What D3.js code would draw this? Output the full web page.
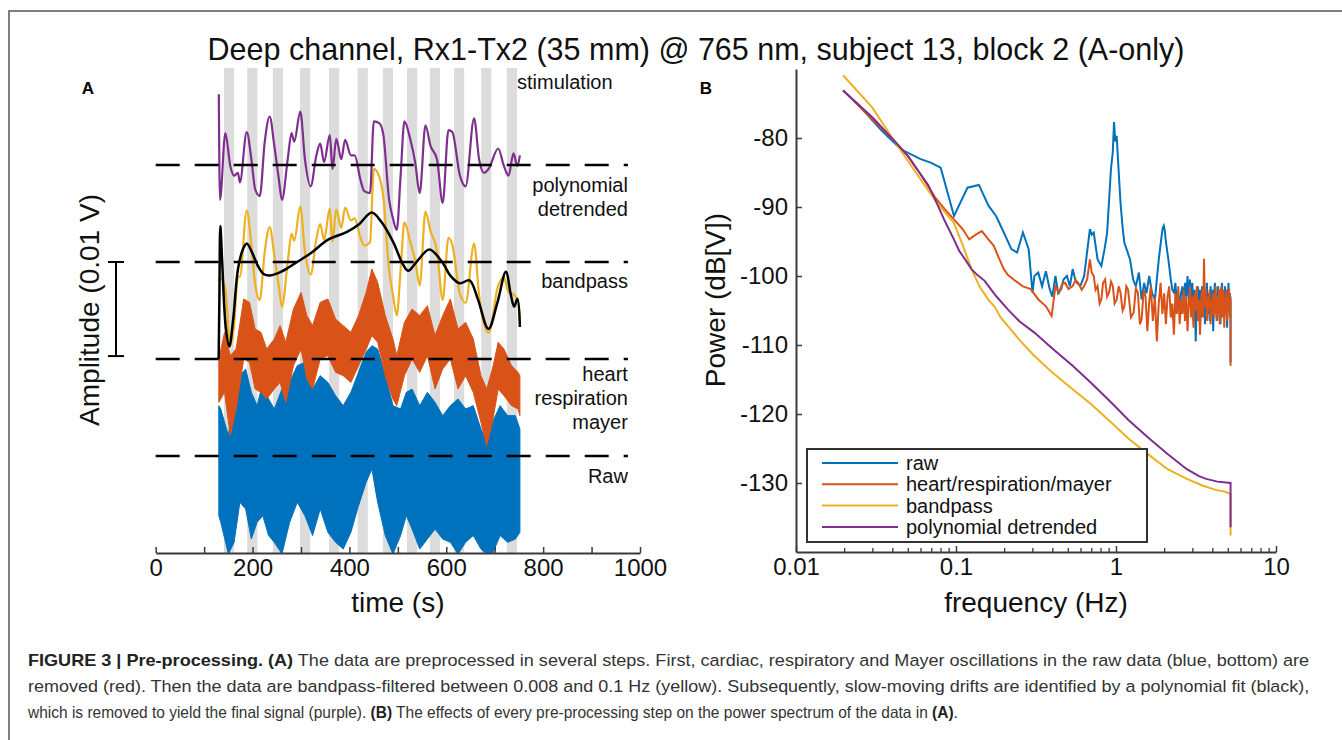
<!DOCTYPE html>
<html><head><meta charset="utf-8">
<script src="https://cdn.jsdelivr.net/npm/d3@7"></script>
<style>
body{margin:0;background:#fff}
svg{display:block}
text{font-family:"Liberation Sans",Arial,Helvetica,sans-serif}
</style>
</head><body>
<svg id="c" width="1342" height="740"></svg>
<script>
// ================= DATA =================
const chartTitle = "Deep channel, Rx1-Tx2 (35 mm) @ 765 nm, subject 13, block 2 (A-only)";

// Panel A: stimulation blocks (s)
const stimOnsets = [141,189,242,298,358,417,469,519,566,616,672,725];
const stimDuration = 21;

// trace baselines (mV; dashed lines)
const baselines = [0,10,20,30];
const traceLabels = [
  {lines:["stimulation"], y:37.8, anchor:"start", t:746},
  {lines:["polynomial","detrended"], y:27.2, anchor:"end", t:975},
  {lines:["bandpass"], y:17.3, anchor:"end", t:975},
  {lines:["heart","respiration","mayer"], y:7.7, anchor:"end", t:975},
  {lines:["Raw"], y:-2.8, anchor:"end", t:975}
];

// polynomial-detrended (purple) and bandpass (yellow), mV around own baseline
const polyT = [130.3,132.7,143.8,154,162,169.8,173.8,188,197.5,205.4,214.9,225.2,235.4,244.9,254.4,260.7,272.6,280.5,286,298.6,308.1,320,331.8,339.7,347.6,359.5,365,372.9,383.2,391.1,403,410.9,422.7,430.6,442.5,450.4,462.2,470.1,482,489.9,497.8,505.7,513.6,525.4,535.7,545.2,557,567.3,580.8,592.6,604.5,612.4,628.2,640,657.4,667.7,677.9,687.4,707.2,719,728.5,738.8,746.7,752];
const polyV = [7.3,-3.6,3.3,-0.1,-1.1,-0.8,-1.8,3.4,0.6,-2.5,-3.2,2.4,5.0,2.0,-1.5,-3.6,0.6,3.3,2.4,5.5,0.6,-2.2,1.0,2.2,0.3,3.1,-0.4,2.7,0.6,2.6,1.0,1.0,-1.5,-2.7,-2.9,4.5,4.3,3.1,-3.6,-5.5,-6.7,-1.1,4.5,2.7,0.3,-2.9,4.1,2.0,0.6,-3.9,3.6,3.4,-1.1,-2.2,4.8,0.6,-0.8,-0.4,1.7,-0.1,-1.1,1.2,-0.1,1.0];
const bandV = [-2.0,-1.6,-2.8,-8.6,-6.4,-1.5,-1.5,5.3,1.7,-2.3,-3.9,1.1,3.6,0.7,-2.6,-4.6,0.0,2.9,2.2,5.7,1.1,-1.3,2.4,3.9,2.3,5.5,2.1,5.4,3.5,5.6,4.3,4.5,2.5,1.7,2.0,9.6,8.7,6.7,-0.9,-3.4,-5.5,-0.8,4.1,2.1,0.2,-2.4,5.2,3.2,1.2,-3.9,2.5,1.8,-3.3,-4.2,1.9,-3.4,-6.4,-7.3,-2.4,-1.6,-3.1,-3.3,-3.9,-5.7];

// polynomial fit (black), on bandpass baseline
const fitT = [130,131.5,133.5,137,145,152,160,170,180,188,198,210,222,235,250,270,292,320,356,395,420,446,465,490,510,521,540,565,590,610,628,648,665,687,705,723,733,740,747,752];
const fitV = [-10.0,-3.8,3.7,0.3,-6.9,-8.7,-5.9,-0.7,1.3,1.9,1.1,-0.3,-1.2,-1.4,-1.2,-0.7,0.0,0.9,2.3,3.1,3.9,5.1,4.2,2.1,-0.2,-0.9,0.1,1.3,0.1,-1.5,-2.2,-1.9,-3.8,-6.9,-4.3,-1.0,-3.3,-4.6,-3.8,-6.7];

// heart/respiration/mayer removed (red): envelope of the noisy trace
const heartT  = [130.3,142.2,154,165.9,181.7,193.6,205.4,217.3,229.1,244.9,256.8,268.6,284.4,300.2,312.1,323.9,339.7,355.5,371.4,387.2,403,418.8,434.6,446.4,458.3,474.1,489.9,497.8,513.6,529.4,545.2,561,576.8,592.6,608.4,624.2,640,655.8,671.6,683.5,695.3,707.2,719,734.8,748,752];
const heartHi = [0,2.75,0.34,1.03,6.19,5.84,3.09,2.75,1.03,2.06,3.44,1.72,5.15,6.87,4.47,3.44,5.84,6.19,4.12,3.44,2.75,4.47,6.87,9.28,7.9,4.47,2.06,0.34,3.78,5.15,4.47,5.5,2.41,4.47,6.19,3.09,3.78,2.06,-1.72,-3.09,-1.03,1.72,1.03,-0.69,-1.37,-1.72];
const heartLo = [-4.47,-3.44,-7.9,-5.15,0,-0.34,-3.09,-3.44,-4.12,-3.09,-2.41,-4.47,-0.69,1.03,-2.06,-3.09,0,0.34,-1.37,-1.72,-2.41,-0.69,1.03,2.41,1.72,-1.72,-4.12,-4.81,-1.72,0,-1.37,0.34,-3.09,-1.03,0,-3.09,-1.72,-3.44,-6.53,-8.93,-6.53,-3.09,-3.78,-4.81,-5.15,-5.84];

// raw (blue): envelope of the noisy trace
const rawT  = [130.3,134.3,150.1,161.9,173.8,185.7,197.5,209.4,221.2,233.1,244.9,260.7,276.5,292.3,308.1,323.9,339.7,355.5,371.4,387.2,403,418.8,434.6,446.4,458.3,474.1,489.9,505.7,517.5,529.4,545.2,561,576.8,592.6,608.4,624.2,640,655.8,671.6,683.5,695.3,711.1,726.9,742.7,752];
const rawHi = [5.19,4.85,2.1,6.9,8.28,8.97,6.56,5.19,7.59,5.88,4.85,6.9,7.59,9.31,9.66,6.9,8.28,7.59,6.22,5.19,6.56,8.63,10.69,11.37,11.03,8.28,5.19,4.85,6.56,6.9,5.19,6.56,5.53,4.16,5.19,5.88,4.85,5.19,2.78,1.41,3.47,5.19,4.16,4.16,2.78];
const rawLo = [-6.15,-6.84,-10.1,-8.9,-4.78,-5.46,-8.56,-6.84,-6.15,-8.2,-8.9,-10.1,-6.84,-4.78,-6.15,-8.2,-5.46,-7.87,-8.9,-9.59,-7.87,-5.12,-2.71,-1.34,-4.78,-8.2,-10.1,-8.2,-6.15,-7.53,-9.59,-8.56,-7.53,-8.56,-8.9,-10.1,-8.9,-8.2,-9.59,-10.1,-10.1,-8.2,-8.9,-8.56,-7.87];

const timeTicks = [0,100,200,300,400,500,600,700,800,900,1000];
const timeLabels = ["0","","200","","400","","600","","800","","1000"];

// Panel B: power spectra [frequency Hz, power dB]
const specRaw = [[0.0197,-73.1],[0.025,-75.4],[0.0342,-78.9],[0.045,-81.6],[0.0592,-83.0],[0.07,-83.6],[0.0802,-84.3],[0.0972,-91.3],[0.118,-87.2],[0.139,-86.8],[0.1596,-89.8],[0.178,-91.3],[0.199,-93.7],[0.222,-96.1],[0.241,-96.6],[0.262,-93.7],[0.2846,-96.1],[0.3007,-102.4],[0.309,-100.0],[0.3266,-99.5],[0.345,-101.5],[0.3646,-99.3],[0.3852,-101.9],[0.40,-103.0],[0.4183,-100.0],[0.435,-102.5],[0.4544,-101.9],[0.47,-100.5],[0.4936,-100.0],[0.515,-101.5],[0.5362,-99.0],[0.56,-100.8],[0.5986,-101.45],[0.6324,-100.0],[0.66,-96.5],[0.687,-93.2],[0.705,-94.0],[0.726,-93.7],[0.767,-97.6],[0.81,-98.55],[0.85,-96.0],[0.88,-93.7],[0.90,-90.0],[0.93,-84.5],[0.955,-82.0],[0.972,-77.7],[0.99,-80.5],[1.01,-79.7],[1.04,-85.0],[1.067,-89.35],[1.10,-93.0],[1.128,-95.2],[1.18,-96.5],[1.224,-97.6],[1.28,-100.5],[1.33,-101.5],[1.39,-99.5],[1.445,-103.4],[1.5,-101.0],[1.55,-102.5],[1.613,-100.0],[1.68,-102.5],[1.752,-103.4],[1.80,-100.5],[1.851,-97.6],[1.92,-94.5],[1.96,-93.0],[1.989,-92.7],[2.02,-93.5],[2.05,-95.0],[2.124,-97.6],[2.2,-100.5],[2.25,-102.0],[2.307,-102.4],[2.35,-101.0],[2.4,-104.0],[2.45,-102.5],[2.506,-105.3],[2.55,-102.5],[2.6,-101.5],[2.65,-104.0],[2.7,-101.0],[2.75,-103.0],[2.8,-100.0],[2.85,-103.5],[2.9,-100.5],[2.95,-104.5],[3.0,-101.0],[3.05,-106.5],[3.1,-102.0],[3.15,-109.5],[3.2,-103.0],[3.25,-101.5],[3.3,-105.5],[3.35,-102.0],[3.4,-106.0],[3.45,-101.5],[3.5,-104.0],[3.55,-102.0],[3.6,-107.0],[3.65,-103.0],[3.7,-101.0],[3.75,-105.5],[3.8,-102.5],[3.85,-106.5],[3.9,-101.5],[3.95,-104.5],[4.0,-102.0],[4.05,-108.0],[4.1,-103.0],[4.15,-101.0],[4.2,-105.0],[4.25,-102.5],[4.3,-106.5],[4.35,-101.5],[4.4,-104.0],[4.45,-102.0],[4.5,-107.0],[4.55,-103.0],[4.6,-101.0],[4.65,-105.5],[4.7,-102.5],[4.75,-106.0],[4.8,-101.5],[4.85,-104.5],[4.9,-102.0],[4.95,-107.5],[5.0,-103.0],[5.05,-101.0],[5.1,-105.0],[5.15,-102.5],[5.2,-104.0],[5.2,-112.5]];
const specHeart = [[0.0197,-73.1],[0.03,-77.3],[0.04,-80.1],[0.05,-82.6],[0.059,-85.0],[0.074,-88.6],[0.085,-90.3],[0.097,-91.8],[0.11,-93.2],[0.121,-94.7],[0.133,-94.0],[0.145,-93.5],[0.158,-94.6],[0.172,-95.6],[0.187,-97.6],[0.199,-99.0],[0.21,-99.8],[0.229,-100.5],[0.262,-101.5],[0.293,-101.9],[0.327,-103.4],[0.365,-104.4],[0.396,-105.8],[0.418,-101.5],[0.44,-102.4],[0.46,-101.2],[0.48,-101.0],[0.505,-101.9],[0.536,-101.45],[0.56,-100.6],[0.58,-101.0],[0.61,-102.0],[0.632,-101.45],[0.66,-100.5],[0.687,-97.6],[0.705,-99.5],[0.726,-100.0],[0.745,-102.0],[0.767,-101.45],[0.79,-104.0],[0.81,-103.4],[0.83,-101.0],[0.855,-100.5],[0.88,-103.0],[0.905,-102.4],[0.93,-100.8],[0.955,-101.45],[0.98,-104.0],[1.01,-103.4],[1.04,-101.5],[1.067,-102.4],[1.10,-105.0],[1.128,-104.4],[1.16,-101.5],[1.19,-102.0],[1.24,-106.0],[1.29,-105.3],[1.33,-101.8],[1.37,-102.4],[1.41,-107.0],[1.445,-106.3],[1.49,-102.0],[1.53,-103.0],[1.57,-108.0],[1.61,-104.0],[1.65,-101.5],[1.70,-106.5],[1.75,-103.0],[1.80,-109.5],[1.85,-104.0],[1.90,-101.0],[1.95,-105.5],[2.0,-102.5],[2.05,-107.0],[2.1,-103.0],[2.15,-101.5],[2.2,-106.0],[2.25,-104.0],[2.3,-108.5],[2.35,-102.5],[2.4,-105.5],[2.45,-101.5],[2.5,-107.0],[2.55,-103.5],[2.6,-105.5],[2.65,-102.0],[2.7,-106.5],[2.75,-103.0],[2.8,-108.0],[2.85,-104.0],[2.9,-101.5],[2.95,-106.0],[3.0,-103.0],[3.05,-107.5],[3.1,-102.5],[3.15,-105.0],[3.2,-101.5],[3.25,-106.5],[3.3,-103.5],[3.35,-108.5],[3.4,-104.0],[3.45,-102.0],[3.5,-106.0],[3.55,-97.5],[3.6,-104.5],[3.65,-102.0],[3.7,-106.5],[3.75,-103.0],[3.8,-105.0],[3.85,-102.0],[3.9,-107.0],[3.95,-103.5],[4.0,-105.5],[4.05,-102.5],[4.1,-106.0],[4.15,-104.0],[4.2,-101.5],[4.25,-106.5],[4.3,-103.0],[4.35,-105.5],[4.4,-102.0],[4.45,-107.0],[4.5,-103.5],[4.55,-101.5],[4.6,-106.0],[4.65,-104.0],[4.7,-102.0],[4.75,-107.5],[4.8,-103.0],[4.85,-105.5],[4.9,-102.0],[4.95,-106.5],[5.0,-103.0],[5.05,-104.5],[5.1,-101.8],[5.15,-106.0],[5.2,-103.0],[5.2,-113.0]];
const specBand = [[0.0197,-70.9],[0.03,-75.6],[0.04,-80.0],[0.05,-83.3],[0.0625,-86.6],[0.075,-89.2],[0.087,-91.0],[0.097,-92.3],[0.11,-95.5],[0.125,-99.0],[0.14,-101.5],[0.16,-103.5],[0.175,-104.5],[0.19,-106.0],[0.21,-107.2],[0.25,-109.3],[0.309,-111.6],[0.4,-114.0],[0.536,-116.4],[0.7,-118.6],[0.93,-121.2],[1.2,-123.6],[1.62,-126.0],[2.1,-128.0],[2.77,-129.4],[3.5,-130.4],[4.2,-131.0],[4.87,-131.3],[5.2,-131.6],[5.2,-137.6]];
const specPoly = [[0.0197,-73.1],[0.03,-77.0],[0.04,-80.1],[0.05,-82.6],[0.059,-85.0],[0.067,-86.8],[0.074,-88.9],[0.085,-92.0],[0.097,-94.7],[0.105,-96.4],[0.114,-97.6],[0.125,-99.0],[0.135,-99.8],[0.151,-100.7],[0.165,-101.9],[0.178,-102.9],[0.21,-104.8],[0.25,-106.6],[0.309,-108.2],[0.4,-110.5],[0.536,-113.0],[0.7,-115.5],[0.93,-118.3],[1.2,-120.9],[1.62,-123.6],[2.1,-125.8],[2.77,-128.0],[3.3,-129.0],[3.66,-129.4],[4.3,-129.8],[5.2,-130.0],[5.2,-136.4]];

const legendNames = ["raw","heart/respiration/mayer","bandpass","polynomial detrended"];
const freqTicks = [0.01,0.1,1,10];
const freqMinor = [0.02,0.03,0.04,0.05,0.06,0.07,0.08,0.09,0.2,0.3,0.4,0.5,0.6,0.7,0.8,0.9,2,3,4,5,6,7,8,9];
const powerTicks = [-80,-90,-100,-110,-120,-130];

const captionLines = [
  [["FIGURE 3 | Pre-processing. (A)",true],[" The data are preprocessed in several steps. First, cardiac, respiratory and Mayer oscillations in the raw data (blue, bottom) are",false]],
  [["removed (red). Then the data are bandpass-filtered between 0.008 and 0.1 Hz (yellow). Subsequently, slow-moving drifts are identified by a polynomial fit (black),",false]],
  [["which is removed to yield the final signal (purple). ",false],["(B)",true],[" The effects of every pre-processing step on the power spectrum of the data in ",false],["(A)",true],[".",false]]
];

// ================= STYLE =================
const C = {raw:"#0072BD", heart:"#D95319", band:"#EDB120", poly:"#7E2F8E", fit:"#000", axis:"#3a3a3a", stim:"#dcdcdc"};
const specColors = [C.raw, C.heart, C.band, C.poly];

const svg = d3.select("#c");

// frame
svg.append("path").attr("d","M1342,11H9V740").attr("fill","none").attr("stroke","#555").attr("stroke-width",1.5);

// title
svg.append("text").attr("x",696).attr("y",60).attr("text-anchor","middle")
  .attr("font-size",30.5).attr("fill","#111").text(chartTitle);

// ================= PANEL A =================
const xA = d3.scaleLinear().domain([0,1000]).range([155.7,640]);
const yA = d3.scaleLinear().domain([-10,40]).range([553,68]);
const gA = svg.append("g");

gA.append("text").attr("x",88).attr("y",94).attr("text-anchor","middle").attr("font-weight","bold").attr("font-size",17).text("A");

gA.selectAll("rect.stim").data(stimOnsets).join("rect").attr("class","stim")
  .attr("x",d=>xA(d)).attr("width",d=>xA(d+stimDuration)-xA(d))
  .attr("y",yA(40)).attr("height",yA(-10)-yA(40)).attr("fill",C.stim);

gA.append("clipPath").attr("id","clipA").append("rect")
  .attr("x",xA(0)).attr("y",0).attr("width",xA(1000)-xA(0)).attr("height",yA(-10));

const rawData = rawT.map((t,i)=>({t,hi:rawHi[i]+baselines[0],lo:rawLo[i]+baselines[0]}));
gA.append("path").datum(rawData).attr("clip-path","url(#clipA)")
  .attr("d",d3.area().x(d=>xA(d.t)).y0(d=>yA(d.lo)).y1(d=>yA(d.hi)))
  .attr("fill",C.raw).attr("stroke",C.raw).attr("stroke-width",1);

const heartData = heartT.map((t,i)=>({t,hi:heartHi[i]+baselines[1],lo:heartLo[i]+baselines[1]}));
gA.append("path").datum(heartData)
  .attr("d",d3.area().x(d=>xA(d.t)).y0(d=>yA(d.lo)).y1(d=>yA(d.hi)))
  .attr("fill",C.heart).attr("stroke",C.heart).attr("stroke-width",1);

const lineA = d3.line().x(d=>xA(d[0])).y(d=>yA(d[1])).curve(d3.curveMonotoneX);
gA.append("path").datum(polyT.map((t,i)=>[t,bandV[i]+baselines[2]]))
  .attr("d",lineA).attr("fill","none").attr("stroke",C.band).attr("stroke-width",2.2);
gA.append("path").datum(fitT.map((t,i)=>[t,fitV[i]+baselines[2]]))
  .attr("d",d3.line().x(d=>xA(d[0])).y(d=>yA(d[1])).curve(d3.curveCatmullRom))
  .attr("fill","none").attr("stroke",C.fit).attr("stroke-width",2.5);
gA.append("path").datum(polyT.map((t,i)=>[t,polyV[i]+baselines[3]]))
  .attr("d",lineA).attr("fill","none").attr("stroke",C.poly).attr("stroke-width",2.2);

gA.selectAll("line.base").data(baselines).join("line").attr("class","base")
  .attr("x1",xA(0)).attr("x2",xA(975)).attr("y1",d=>yA(d)).attr("y2",d=>yA(d))
  .attr("stroke","#000").attr("stroke-width",2.5).attr("stroke-dasharray","24,15");

const sb = gA.append("g").attr("stroke","#000").attr("stroke-width",2);
sb.append("line").attr("x1",116).attr("x2",116).attr("y1",yA(20)).attr("y2",yA(10.3));
sb.append("line").attr("x1",108).attr("x2",124).attr("y1",yA(20)).attr("y2",yA(20));
sb.append("line").attr("x1",108).attr("x2",124).attr("y1",yA(10.3)).attr("y2",yA(10.3));

traceLabels.forEach(l=>{
  const t = gA.append("text").attr("x",xA(l.t)).attr("y",yA(l.y)).attr("text-anchor",l.anchor)
    .attr("font-size",20).attr("fill","#111");
  l.lines.forEach((s,i)=>t.append("tspan").attr("x",xA(l.t)).attr("dy",i===0?0:24).text(s));
});

const axA = gA.append("g").attr("transform",`translate(0,${yA(-10)})`)
  .call(d3.axisBottom(xA).tickValues(timeTicks).tickFormat((d,i)=>timeLabels[i]).tickSizeInner(-6).tickSizeOuter(0).tickPadding(6));
axA.select(".domain").attr("stroke",C.axis).attr("stroke-width",2);
axA.selectAll(".tick line").attr("stroke",C.axis).attr("stroke-width",1.5);
axA.selectAll(".tick text").attr("font-size",24).attr("fill","#111").attr("font-family",'"Liberation Sans",Arial,sans-serif');

gA.append("text").attr("x",xA(500)).attr("y",612).attr("text-anchor","middle").attr("font-size",28).attr("fill","#111").text("time (s)");
gA.append("text").attr("transform","translate(99,310) rotate(-90)").attr("text-anchor","middle").attr("font-size",28).attr("fill","#111").text("Amplitude (0.01 V)");

// ================= PANEL B =================
const xB = d3.scaleLog().domain([0.01,10]).range([796,1276]);
const yB = d3.scaleLinear().domain([-140,-70]).range([552,69]);
const gB = svg.append("g");

gB.append("text").attr("x",706).attr("y",94).attr("text-anchor","middle").attr("font-weight","bold").attr("font-size",17).text("B");

const lineB = d3.line().x(d=>xB(d[0])).y(d=>yB(d[1]));
[specRaw,specHeart,specBand,specPoly].forEach((s,i)=>{
  gB.append("path").datum(s).attr("d",lineB).attr("fill","none").attr("stroke",specColors[i]).attr("stroke-width",2);
});

const axBx = gB.append("g").attr("transform",`translate(0,${yB(-140)})`)
  .call(d3.axisBottom(xB).tickValues(freqTicks).tickFormat(d=>String(d)).tickSizeInner(-6).tickSizeOuter(0).tickPadding(6));
gB.append("g").attr("transform",`translate(0,${yB(-140)})`)
  .call(d3.axisBottom(xB).tickValues(freqMinor).tickFormat("").tickSizeInner(-4).tickSizeOuter(0))
  .call(g=>g.select(".domain").remove()).selectAll(".tick line").attr("stroke",C.axis).attr("stroke-width",1.3);
axBx.select(".domain").attr("stroke",C.axis).attr("stroke-width",2);
axBx.selectAll(".tick line").attr("stroke",C.axis).attr("stroke-width",1.5);
axBx.selectAll(".tick text").attr("font-size",24).attr("fill","#111").attr("font-family",'"Liberation Sans",Arial,sans-serif');

const axBy = gB.append("g").attr("transform",`translate(${xB(0.01)},0)`)
  .call(d3.axisLeft(yB).tickValues(powerTicks).tickFormat(d=>String(d)).tickSizeInner(-6).tickSizeOuter(0).tickPadding(8));
axBy.select(".domain").attr("stroke",C.axis).attr("stroke-width",2);
axBy.selectAll(".tick line").attr("stroke",C.axis).attr("stroke-width",1.5);
axBy.selectAll(".tick text").attr("font-size",24).attr("fill","#111").attr("font-family",'"Liberation Sans",Arial,sans-serif');

gB.append("text").attr("x",1036).attr("y",612).attr("text-anchor","middle").attr("font-size",28).attr("fill","#111").text("frequency (Hz)");
gB.append("text").attr("transform","translate(725,300) rotate(-90)").attr("text-anchor","middle").attr("font-size",28).attr("fill","#111").text("Power (dB[V])");

const lg = gB.append("g");
lg.append("rect").attr("x",807).attr("y",449).attr("width",340).attr("height",93)
  .attr("fill","#fff").attr("stroke","#333").attr("stroke-width",2);
legendNames.forEach((n,i)=>{
  const yy = 463 + i*21.3;
  lg.append("line").attr("x1",822).attr("x2",898).attr("y1",yy).attr("y2",yy).attr("stroke",specColors[i]).attr("stroke-width",2);
  lg.append("text").attr("x",906).attr("y",yy+7).attr("font-size",20).attr("fill","#111").text(n);
});

// ================= CAPTION =================
// condensed look: each line squeezed horizontally to its width in the figure
const capY = [666,692,718];
const capW = [1282,1282,930];
captionLines.forEach((parts,i)=>{
  const g = svg.append("g");
  const t = g.append("text").attr("x",0).attr("y",0).attr("font-size",16.5).attr("fill","#333");
  parts.forEach(p=>t.append("tspan").attr("font-weight",p[1]?"bold":"normal").attr("fill",p[1]?"#222":"#333").text(p[0]));
  const nat = t.node().getComputedTextLength();
  g.attr("transform",`translate(28,${capY[i]}) scale(${capW[i]/nat},1)`);
});
</script>
</body></html>
